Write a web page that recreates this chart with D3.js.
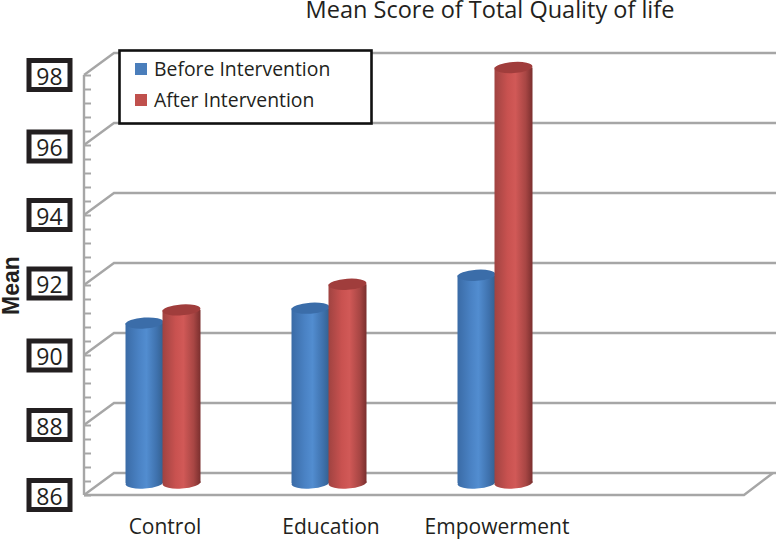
<!DOCTYPE html>
<html><head><meta charset="utf-8">
<script src="https://cdn.jsdelivr.net/npm/d3@7"></script>
<style>html,body{margin:0;background:#fff}svg{display:block}</style></head>
<body><script>
const categories = ["Control","Education","Empowerment"];
const beforeValues = [90.62,91.05,92];
const afterValues = [91,91.74,98];
const seriesNames = ["Before Intervention","After Intervention"];
const yTicks = [86,88,90,92,94,96,98];
const minorTicks = d3.range(0,31).map(i=>86+i*0.4);
const W=776,H=539,dx=30,dy=-22;
const svg=d3.select("body").append("svg").attr("width",W).attr("height",H);
const font="'Open Sans',sans-serif", ink="#231f20", grid="#a6a6a6";
const y=d3.scaleLinear().domain([86,98]).range([495,75]);
const barY=d3.scaleLinear().domain([86,98]).range([483,67.5]);
const x=d3.scaleBand().domain(categories.concat("")).range([80,744]).padding(0);
const defs=svg.append("defs");
[["blue",["#3a6ba6","#4a82c4","#528dd0","#3f72ae","#34608f"]],["red",["#a04341","#c95250","#d15957","#a84644","#7a2f2e"]]].forEach(([id,c])=>{
  const g=defs.append("linearGradient").attr("id",id);
  [0,.35,.55,.82,1].forEach((o,i)=>g.append("stop").attr("offset",o).attr("stop-color",c[i]));
});
// back wall gridlines and floor
const gl=svg.append("g").attr("fill","none").attr("stroke",grid).attr("stroke-width",2.4);
yTicks.forEach(t=>{
  const Y=y(t);
  gl.append("path").attr("d",`M84,${Y}L${84+dx},${Y+dy}H${W}`);
});
gl.append("path").attr("d",`M84,${y(86)}H744L${744+dx-1},${y(86)+dy}`);
// axis
const axis=d3.axisRight(y).tickValues(minorTicks).tickSize(7).tickFormat("");
const ag=svg.append("g").attr("transform","translate(84,0)").call(axis);
ag.selectAll("path,line").attr("stroke",grid).attr("stroke-width",2);
ag.select(".domain").attr("stroke-width",2.4).attr("d",`M0,${y(98)}V${y(86)}`);
// tick boxes (hand-placed in the original, so slightly uneven)
const boxNudge={96:1.5,92:-1.5,90:0.5};
const tb=svg.append("g").selectAll("g").data(yTicks).join("g").attr("transform",d=>`translate(49.5,${y(d)+(boxNudge[d]||0)})`);
tb.append("rect").attr("x",-20.5).attr("y",-14.5).attr("width",41).attr("height",29).attr("fill","#fff").attr("stroke",ink).attr("stroke-width",5);
tb.append("text").attr("text-anchor","middle").attr("y",9.5).attr("font-family",font).attr("font-size",23).attr("fill",ink).text(d=>d);
// cylinders
const bw=38, ry=5.5, tilt=-4;
function cyl(g,cx,v,fill,cap){
  const t=barY(v),b=barY(86);
  g.append("ellipse").attr("cx",cx).attr("cy",b).attr("rx",bw/2).attr("ry",ry).attr("fill",`url(#${fill})`).attr("transform",`rotate(${tilt} ${cx} ${b})`);
  g.append("rect").attr("x",cx-bw/2).attr("y",t).attr("width",bw).attr("height",b-t).attr("fill",`url(#${fill})`);
  g.append("ellipse").attr("cx",cx).attr("cy",t).attr("rx",bw/2).attr("ry",ry).attr("fill",cap).attr("transform",`rotate(${tilt} ${cx} ${t})`);
}
const bars=svg.append("g");
categories.forEach((c,i)=>{
  const m=x(c)+x.bandwidth()/2;
  cyl(bars,m-18.5,beforeValues[i],"blue","#3b6da9");
  cyl(bars,m+18.5,afterValues[i],"red","#a03d3c");
});
// category labels
svg.append("g").selectAll("text").data(categories).join("text")
  .attr("x",d=>x(d)+x.bandwidth()/2+2).attr("y",534).attr("text-anchor","middle")
  .attr("font-family",font).attr("font-size",21).attr("fill",ink).text(d=>d);
// title
svg.append("text").attr("x",490).attr("y",18).attr("text-anchor","middle")
  .attr("font-family",font).attr("font-size",23.5).attr("fill",ink).text("Mean Score of Total Quality of life");
// axis title
svg.append("text").attr("transform","translate(19,285.5) rotate(-90)").attr("text-anchor","middle")
  .attr("font-family","'Liberation Sans',sans-serif").attr("font-weight","bold").attr("font-size",23).attr("fill",ink).text("Mean");
// legend
svg.append("rect").attr("x",119.5).attr("y",50.5).attr("width",252).attr("height",73).attr("fill","#fff").attr("stroke","#111").attr("stroke-width",2.6);
const lg=svg.append("g").selectAll("g").data(seriesNames).join("g").attr("transform",(d,i)=>`translate(135,${63+i*31})`);
lg.append("rect").attr("width",12).attr("height",12).attr("fill",(d,i)=>["#4a7ebb","#c0504d"][i]);
lg.append("text").attr("x",19).attr("y",12.7).attr("font-family",font).attr("font-size",19.4).attr("fill",ink).text(d=>d);
</script></body></html>
